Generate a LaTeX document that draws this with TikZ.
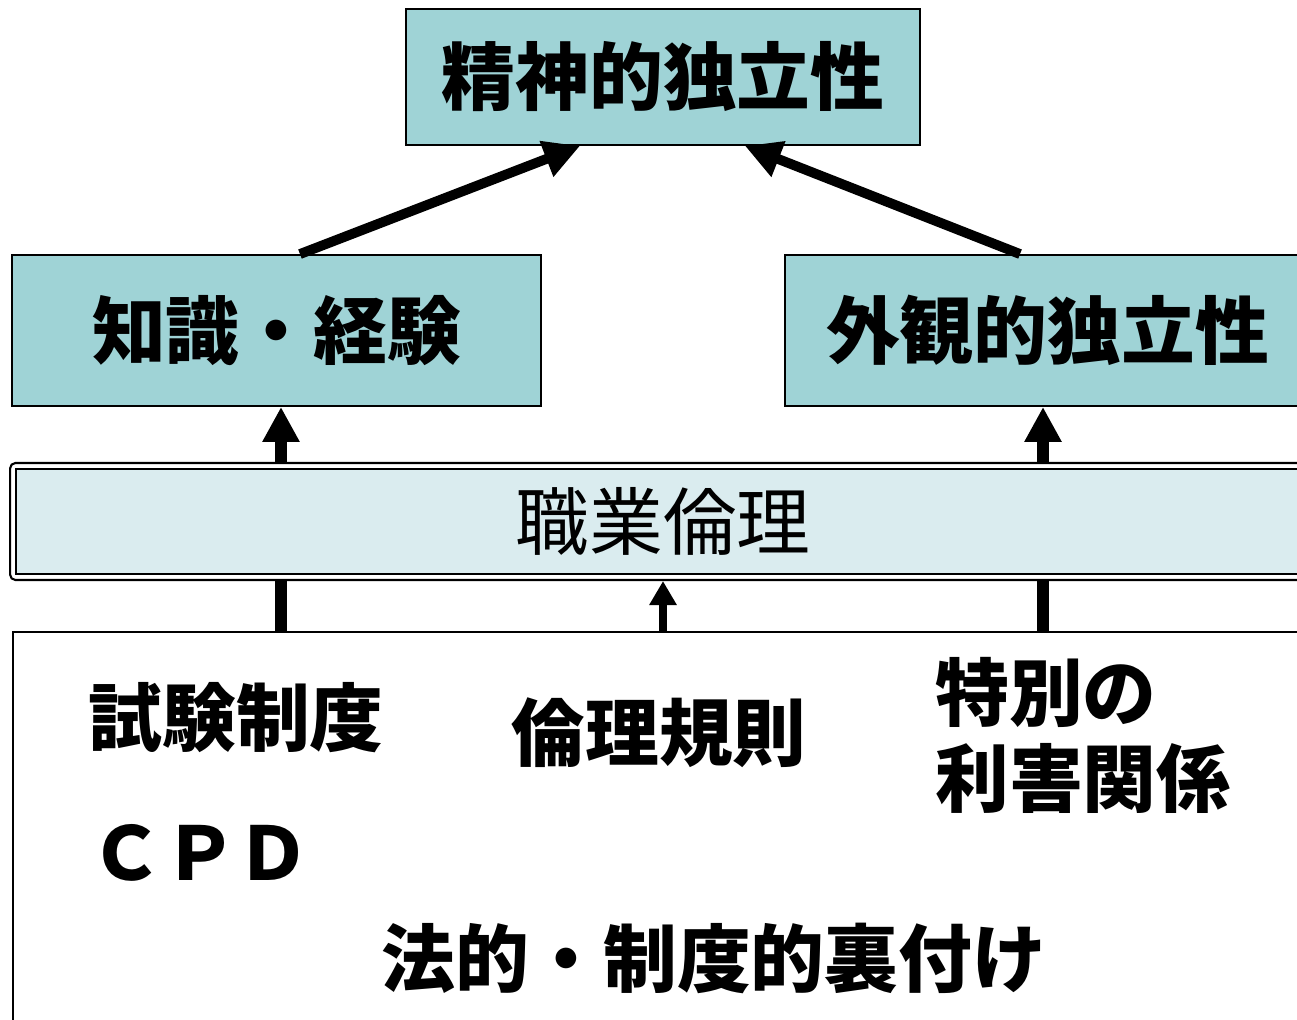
\documentclass[tikz,border=0pt]{standalone}
\usepackage{fontspec}
\usepackage{xcolor}
\usepackage{tikz}
\usetikzlibrary{arrows.meta}

\newfontfamily\jp{Noto Sans CJK JP}
\definecolor{boxteal}{RGB}{159,211,214}
\definecolor{bandblue}{RGB}{218,236,239}

\tikzset{
    topbox/.style={draw, line width=1.1pt, fill=boxteal, inner sep=0pt},
    jtext/.style={font=\jp\bfseries\fontsize{42}{49}\selectfont, inner sep=0pt},
    diagarrow/.style={line width=5.6pt, -{Triangle[length=0.72cm, width=0.72cm]}},
    uparrow/.style={line width=6.8pt, -{Triangle[length=0.7cm, width=0.7cm]}},
    smallarrow/.style={line width=4.5pt, -{Triangle[length=0.48cm, width=0.52cm]}},
    bar/.style={line width=6.8pt}
}

\begin{document}
\begin{tikzpicture}[x=0.02cm, y=-0.02cm]
    \useasboundingbox (0,0) rectangle (1297,1020);

    % Top: the three boxes
    \node[topbox, jtext, minimum width=10.28cm, minimum height=2.72cm] (spirit) at (663,77) {精神的独立性};
    \node[topbox, jtext, minimum width=10.58cm, minimum height=3.02cm] (know) at (276.5,330.5) {知識・経験};
    \node[topbox, jtext, minimum width=10.5cm, minimum height=3.02cm] (appear) at (1047.5,330.5) {外観的独立性};

    % Arrows into the top box
    \draw[diagarrow] ([xshift=0.47cm]know.north) -- ([xshift=-1.66cm]spirit.south);
    \draw[diagarrow] ([xshift=-0.55cm]appear.north) -- ([xshift=1.64cm]spirit.south);

    % Band in the middle (double border)
    \node[draw, line width=1.2pt, rounded corners=3pt, fill=white, minimum width=26.12cm, minimum height=2.34cm] (bandout) at (663,521.5) {};
    \node[draw, line width=1.2pt, fill=bandblue, font=\jp\fontsize{42}{49}\selectfont, minimum width=25.88cm, minimum height=2.1cm] (band) at (663,521.5) {職業倫理};

    % Arrows from the band up
    \coordinate (left) at ([xshift=0.09cm]know.south);
    \coordinate (right) at ([xshift=-0.09cm]appear.south);
    \draw[uparrow] (bandout.north -| left) -- (left);
    \draw[uparrow] (bandout.north -| right) -- (right);

    % Bottom box with its texts
    \node[draw, line width=1.1pt, minimum width=26cm, minimum height=8.16cm] (base) at (663,836) {};
    \node[jtext] (exam) at (236,718) {試験制度};
    \node[jtext] (rules) at (659,733) {倫理規則};
    \node[jtext, align=left, anchor=west] (interest) at (935,735) {特別の\\利害関係};
    \node[jtext] (cpd) at (200,853) {ＣＰＤ};
    \node[jtext] (legal) at (714,958) {法的・制度的裏付け};

    % Links from the bottom box to the band
    \draw[bar] (base.north -| left) -- (bandout.south -| left);
    \draw[bar] (base.north -| right) -- (bandout.south -| right);
    \draw[smallarrow] (base.north) -- (bandout.south);
\end{tikzpicture}
\end{document}
